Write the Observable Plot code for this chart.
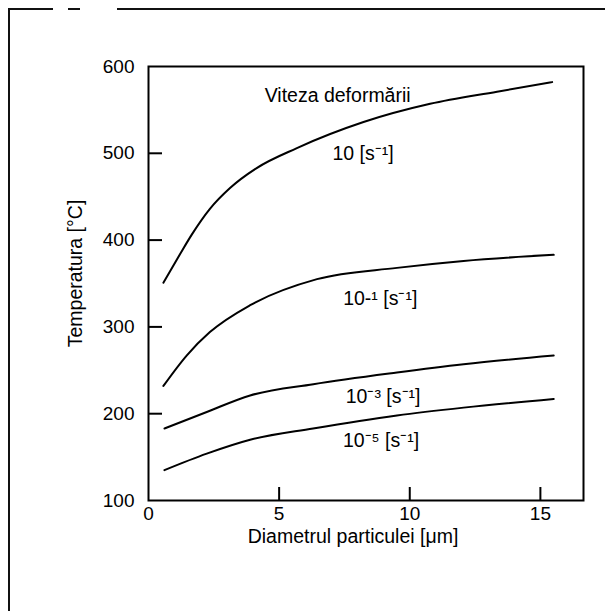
<!DOCTYPE html>
<html><head><meta charset="utf-8">
<script src="https://cdn.jsdelivr.net/npm/d3@7"></script>
<script src="https://cdn.jsdelivr.net/npm/@observablehq/plot@0.6"></script>
<style>
body{margin:0;background:#fff;}
#wrap{position:relative;width:605px;height:611px;overflow:hidden;background:#fff;}
.b{position:absolute;background:#111;}
#chart{position:absolute;left:0;top:0;}
</style></head><body>
<div id="wrap">
  <div class="b" style="left:8px;top:8px;width:45px;height:2px"></div>
  <div class="b" style="left:68px;top:8px;width:12px;height:2px"></div>
  <div class="b" style="left:117px;top:8px;width:488px;height:2px"></div>
  <div class="b" style="left:8px;top:8px;width:2px;height:603px"></div>
  <div id="chart"></div>
</div>
<script>
// Data
const xTicks = [0, 5, 10, 15];
const yTicks = [100, 200, 300, 400, 500, 600];
const xTitle = "Diametrul particulei [μm]";
const yTitle = "Temperatura [°C]";
const legendTitle = "Viteza deformării";

const rates = ["10", "10-1", "10-3", "10-5"];
const rateLabels = ["10 [s⁻¹]", "10-¹ [s⁻¹]", "10⁻³ [s⁻¹]", "10⁻⁵ [s⁻¹]"];

const diam10  = [0.57, 1.21, 1.65, 2.35, 3.12, 4.14, 5.68, 8.23, 10.78, 13.34, 15.45];
const temp10  = [351, 384, 406, 436, 460, 483, 506, 536, 557, 571, 582];
const diam01  = [0.57, 1.46, 2.35, 3.89, 6.45, 9.51, 12.06, 15.51];
const temp01  = [232, 267, 294, 325, 355, 368, 376, 383];
const diam3   = [0.61, 2.23, 3.89, 6.31, 9.51, 12.06, 15.51];
const temp3   = [183, 202, 221, 234, 247.5, 257, 267];
const diam5   = [0.61, 2.23, 3.89, 6.3, 9.51, 12.06, 15.51];
const temp5   = [135, 154, 170, 183, 198, 207, 217];

const labelX = [8.21, 8.87, 8.98, 8.9];
const labelY = [499, 332, 219, 169];
const legendX = 7.24, legendY = 566;

const series = [[diam10, temp10], [diam01, temp01], [diam3, temp3], [diam5, temp5]];
const lineData = series.flatMap(([xs, ys], i) => xs.map((x, j) => ({rate: rates[i], d: x, t: ys[j]})));
const labelData = rateLabels.map((s, i) => ({text: s, x: labelX[i], y: labelY[i]}));

const W = 605, H = 611, mL = 148, mR = 22, mT = 66, mB = 111;
const plotW = W - mL - mR, plotH = H - mT - mB;
const font = "'Liberation Sans', Arial, Helvetica, sans-serif";

const chart = Plot.plot({
  width: W, height: H,
  marginLeft: mL, marginRight: mR, marginTop: mT, marginBottom: mB,
  style: {fontFamily: font, fontSize: "19px", color: "#000", background: "transparent"},
  x: {domain: [0, 16.65]},
  y: {domain: [100, 600]},
  marks: [
    Plot.axisX(xTicks, {tickSize: 0, tickPadding: 6, label: null, fontSize: 19}),
    Plot.axisY(yTicks, {tickSize: 0, tickPadding: 14, label: null, fontSize: 19}),
    Plot.tickX(xTicks.filter(d => d > 0), {x: d => d, insetTop: plotH - 13, stroke: "#000", strokeWidth: 2}),
    Plot.tickY(yTicks.filter(d => d > 100 && d < 600), {y: d => d, insetRight: plotW - 14, stroke: "#000", strokeWidth: 2}),
    Plot.line(lineData, {x: "d", y: "t", z: "rate", stroke: "#000", strokeWidth: 2, curve: "monotone-x"}),
    Plot.text(labelData, {x: "x", y: "y", text: "text", fontSize: 19.5, fill: "#000"}),
    Plot.text([legendTitle], {x: legendX, y: legendY, text: d => d, fontSize: 19.5, fill: "#000"}),
    Plot.text([xTitle], {frameAnchor: "bottom", text: d => d, dy: 42, dx: -13, fontSize: 19.5, fill: "#000"}),
    Plot.text([yTitle], {frameAnchor: "left", textAnchor: "middle", text: d => d, rotate: -90, dx: -73, dy: -10, fontSize: 19.5, fill: "#000"}),
    Plot.frame({stroke: "#000", strokeWidth: 2})
  ]
});
document.getElementById("chart").appendChild(chart);
</script>
</body></html>
